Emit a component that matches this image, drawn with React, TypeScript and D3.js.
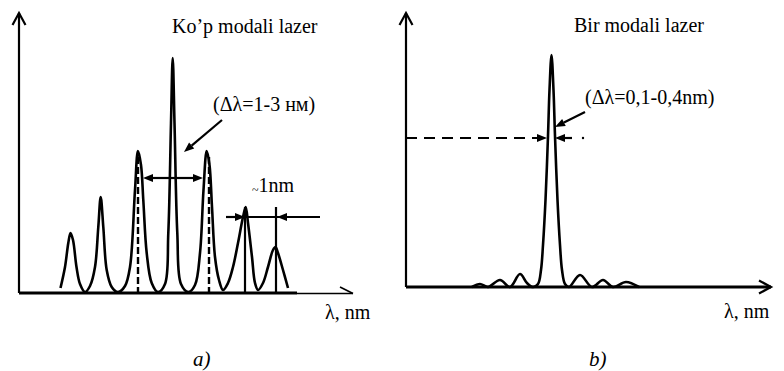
import React from 'react';
import * as d3 from 'd3';

// multi-mode spectrum (a): [wavelength, intensity]
const multiModeCurve: [number, number][] = [
  [2.075, 0.025], [2.3, 0.13], [2.465, 0.25], [2.575, 0.3], [2.7, 0.265], [2.875, 0.13], [3.05, 0.045], [3.3, 0.005],
  [3.55, 0.035], [3.8, 0.13], [3.965, 0.33], [4.085, 0.48], [4.215, 0.33], [4.385, 0.115], [4.635, 0.03], [4.95, 0.005],
  [5.3, 0.035], [5.55, 0.13], [5.8, 0.515], [5.95, 0.71], [6.1, 0.64], [6.215, 0.465], [6.385, 0.2], [6.635, 0.05], [6.95, 0.005],
  [7.3, 0.045], [7.465, 0.3], [7.6, 0.85], [7.685, 1.175], [7.775, 0.85], [7.915, 0.3], [8.1, 0.045], [8.475, 0.005],
  [8.8, 0.04], [9.05, 0.2], [9.225, 0.515], [9.385, 0.71], [9.525, 0.64], [9.65, 0.43], [9.8, 0.18], [10.0, 0.065], [10.2, 0.015],
  [10.45, 0.05], [10.7, 0.13], [10.95, 0.25], [11.2, 0.38], [11.335, 0.43], [11.45, 0.35], [11.65, 0.18], [11.8, 0.05], [11.95, 0.015],
  [12.2, 0.05], [12.45, 0.13], [12.7, 0.215], [12.825, 0.23], [12.95, 0.2], [13.2, 0.115], [13.45, 0.025],
];

// single-mode spectrum (b)
const singleModeCurve: [number, number][] = [
  [3.3, 0], [3.7, 0.015], [4.1, 0], [4.7, 0.035], [5.2, 0], [5.7, 0.065], [6.05, 0.02], [6.35, 0],
  [6.6, 0.015], [6.75, 0.085], [6.85, 0.21], [6.975, 0.435], [7.1, 0.755], [7.175, 0.985], [7.275, 1.16],
  [7.375, 0.985], [7.45, 0.755], [7.575, 0.435], [7.7, 0.21], [7.8, 0.085], [7.95, 0.015], [8.15, 0],
  [8.7, 0.06], [9.3, 0], [9.85, 0.035], [10.35, 0], [11, 0.025], [11.65, 0],
];

// annotation anchors (data units)
const widthMarksA = [5.95, 9.5];        // dashed lines, Δλ span
const spacingMarksA = [11.3, 12.85];    // ~1nm mode spacing
const halfLevelB = 0.745;

const FONT = 'Liberation Serif';

const xA = d3.scaleLinear().domain([0, 16.7]).range([19, 353]);
const yA = d3.scaleLinear().domain([0, 1.4]).range([293, 13]);
const xB = d3.scaleLinear().domain([0, 18.25]).range([406, 771]);
const yB = d3.scaleLinear().domain([0, 1.37]).range([287, 13]);

type ArrowProps = { x1: number; y1: number; x2: number; y2: number; head?: number; w?: number; dash?: string };

const Arrow = ({ x1, y1, x2, y2, head = 10, w = 8, dash }: ArrowProps) => {
  const a = Math.atan2(y2 - y1, x2 - x1);
  const bx = x2 - head * Math.cos(a);
  const by = y2 - head * Math.sin(a);
  const px = (-Math.sin(a) * w) / 2;
  const py = (Math.cos(a) * w) / 2;
  return (
    <g>
      <line x1={x1} y1={y1} x2={bx} y2={by} stroke="#000" strokeWidth={2.2} strokeDasharray={dash} />
      <path d={`M${x2},${y2}L${bx + px},${by + py}L${bx - px},${by - py}Z`} fill="#000" />
    </g>
  );
};

const Label = ({ x, y, size = 20, italic = false, children }: any) => (
  <text x={x} y={y} fontFamily={FONT} fontSize={size} fontStyle={italic ? 'italic' : 'normal'} fill="#000">
    {children}
  </text>
);

export default function App() {
  const line = (x: d3.ScaleLinear<number, number>, y: d3.ScaleLinear<number, number>) =>
    d3.line<[number, number]>().x(d => x(d[0])).y(d => y(d[1])).curve(d3.curveCatmullRom.alpha(0.5));

  const pathA = line(xA, yA)(multiModeCurve) || '';
  const pathB = line(xB, yB)(singleModeCurve) || '';

  const ax0 = xA(0), ay0 = yA(0), ayTop = yA(1.4);
  const bx0 = xB(0), by0 = yB(0), byTop = yB(1.37);

  return (
    <svg width={784} height={371} style={{ position: 'absolute', left: 0, top: 0, background: '#fff' }}>
      {/* panel a axes */}
      <line x1={ax0} y1={ay0} x2={ax0} y2={ayTop} stroke="#000" strokeWidth={2.2} />
      <path d={`M${ax0 - 6.5},${ayTop + 12}L${ax0},${ayTop}L${ax0 + 6.5},${ayTop + 12}`} fill="none" stroke="#000" strokeWidth={2.2} />
      <line x1={ax0} y1={ay0} x2={xA(13.9)} y2={ay0} stroke="#000" strokeWidth={2.8} />
      <line x1={xA(13.9)} y1={ay0 + 0.5} x2={xA(16.7)} y2={ay0 + 0.5} stroke="#000" strokeWidth={1.3} />
      <line x1={xA(16.7) - 13} y1={ay0 - 6} x2={xA(16.7)} y2={ay0 + 0.5} stroke="#000" strokeWidth={1.6} />

      {/* panel a curve */}
      <path d={pathA} fill="none" stroke="#000" strokeWidth={2.6} strokeLinejoin="round" />

      {/* dashed width markers */}
      {widthMarksA.map(v => (
        <line key={v} x1={xA(v)} y1={yA(0.68)} x2={xA(v)} y2={ay0} stroke="#000" strokeWidth={2.4} strokeDasharray="7,3" />
      ))}
      {/* double arrow between them */}
      <Arrow x1={xA(7.7)} y1={yA(0.575)} x2={xA(6.2)} y2={yA(0.575)} />
      <Arrow x1={xA(7.7)} y1={yA(0.575)} x2={xA(9.2)} y2={yA(0.575)} />
      <Arrow x1={xA(10.15)} y1={yA(0.865)} x2={xA(8.25)} y2={yA(0.705)} />

      {/* mode spacing */}
      {spacingMarksA.map(v => (
        <line key={v} x1={xA(v)} y1={yA(0.43)} x2={xA(v)} y2={ay0} stroke="#000" strokeWidth={2.2} />
      ))}
      <line x1={xA(10.35)} y1={yA(0.38)} x2={xA(15.05)} y2={yA(0.38)} stroke="#000" strokeWidth={2.2} />
      <Arrow x1={xA(10.35)} y1={yA(0.38)} x2={xA(11.3)} y2={yA(0.38)} />
      <Arrow x1={xA(15.05)} y1={yA(0.38)} x2={xA(12.9)} y2={yA(0.38)} />

      <Label x={172} y={33}>Ko’p modali lazer</Label>
      <Label x={213} y={111}>(Δλ=1-3 нм)</Label>
      <text x={252} y={192} fontFamily={FONT} fontSize={20} fill="#000">
        <tspan fontSize={12} dy={2}>~</tspan>
        <tspan dy={-2}>1nm</tspan>
      </text>
      <Label x={325} y={319}>λ, nm</Label>
      <Label x={193} y={366} size={21} italic>a)</Label>

      {/* panel b axes */}
      <line x1={bx0} y1={by0} x2={bx0} y2={byTop} stroke="#000" strokeWidth={2.2} />
      <path d={`M${bx0 - 6.5},${byTop + 12}L${bx0},${byTop}L${bx0 + 6.5},${byTop + 12}`} fill="none" stroke="#000" strokeWidth={2.2} />
      <line x1={bx0} y1={by0} x2={xB(18.25)} y2={by0} stroke="#000" strokeWidth={2.8} />
      <path d={`M${xB(18.25) - 12},${by0 - 6.5}L${xB(18.25)},${by0}L${xB(18.25) - 12},${by0 + 6.5}`} fill="none" stroke="#000" strokeWidth={2.2} />

      {/* panel b curve */}
      <path d={pathB} fill="none" stroke="#000" strokeWidth={2.6} strokeLinejoin="round" />

      <Arrow x1={bx0} y1={yB(halfLevelB)} x2={xB(7.05)} y2={yB(halfLevelB)} dash="11,7" />
      <Arrow x1={xB(8.3)} y1={yB(halfLevelB)} x2={xB(7.45)} y2={yB(halfLevelB)} />
      <circle cx={xB(8.85)} cy={yB(halfLevelB)} r={1.2} fill="#000" />
      <Arrow x1={xB(8.95)} y1={yB(0.875)} x2={xB(7.45)} y2={yB(0.8)} />

      <Label x={574} y={32}>Bir modali lazer</Label>
      <Label x={585} y={104}>(Δλ=0,1-0,4nm)</Label>
      <Label x={724} y={318}>λ, nm</Label>
      <Label x={589} y={366} size={21} italic>b)</Label>
    </svg>
  );
}
